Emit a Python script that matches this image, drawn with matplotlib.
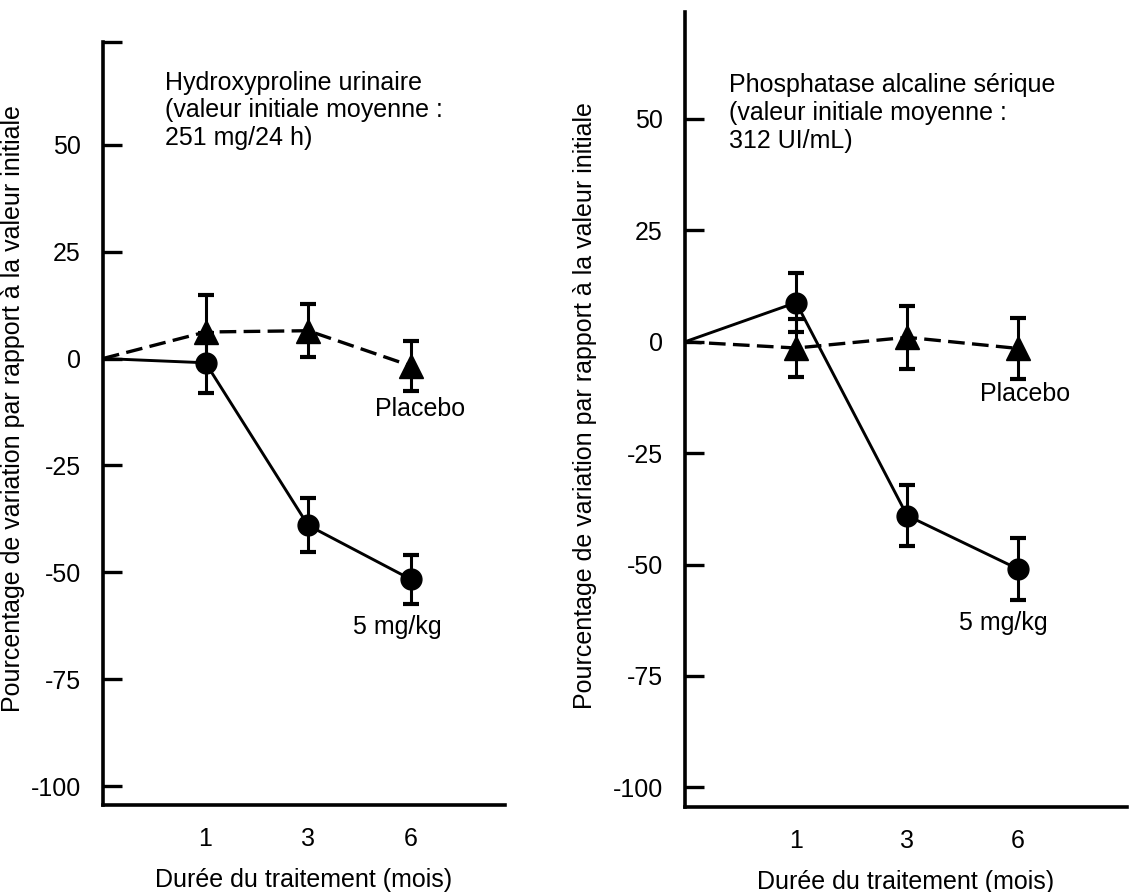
import matplotlib
matplotlib.use("Agg")
import matplotlib.pyplot as plt

plt.rcParams['font.family'] = ['Liberation Sans', 'DejaVu Sans']

# ---- data ----
months = ["0", "1", "3", "6"]
month_labels = ["1", "3", "6"]
y_ticks = [50, 25, 0, -25, -50, -75, -100]

# Panel 1: Hydroxyproline urinaire
hyp_dose = [0, -1, -39, -51.6]
hyp_dose_err = [0, 7, 6.3, 5.7]
hyp_plac = [0, 6.2, 6.5, -1.7]
hyp_plac_err = [0, 8.7, 6.2, 5.8]

# Panel 2: Phosphatase alcaline sérique
pal_dose = [0, 8.8, -39, -51]
pal_dose_err = [0, 6.7, 6.9, 6.9]
pal_plac = [0, -1.4, 1, -1.5]
pal_plac_err = [0, 6.6, 7, 6.8]

titles = ["Hydroxyproline urinaire\n(valeur initiale moyenne :\n251 mg/24 h)",
          "Phosphatase alcaline sérique\n(valeur initiale moyenne :\n312 UI/mL)"]
ylabel = "Pourcentage de variation par rapport à la valeur initiale"
xlabel = "Durée du traitement (mois)"
label_dose = "5 mg/kg"
label_plac = "Placebo"

FS = 18
YMIN, YMAX = -104.4, 74
fig = plt.figure(figsize=(11.33, 8.92), dpi=100)
ax1 = fig.add_axes([0.0909, 0.0975, 0.3548, 0.8554])
ax2 = fig.add_axes([0.6046, 0.0953, 0.3901, 0.8912])

panels = [
    (ax1, titles[0], hyp_dose, hyp_dose_err, hyp_plac, hyp_plac_err, 3.92,
     (0.6, 58.0), (2.65, -11.8), (2.44, -62.8), True),
    (ax2, titles[1], pal_dose, pal_dose_err, pal_plac, pal_plac_err, 3.98,
     (0.4, 51.3), (2.66, -11.7), (2.47, -63), False),
]

for ax, title, d, de, p, pe, xmax, tpos, ppos, dpos, topcap in panels:
    x = list(range(len(months)))
    # placebo dashed
    ax.plot(x, p, color='black', lw=2.4, ls=(0, (5, 2.2)), zorder=2)
    ax.errorbar(x[1:], p[1:], yerr=pe[1:], fmt='^', color='black', ms=17,
                ecolor='black', elinewidth=2.2, capsize=6, capthick=3, zorder=3)
    # 5 mg/kg solid
    ax.plot(x, d, color='black', lw=2.1, zorder=2)
    ax.errorbar(x[1:], d[1:], yerr=de[1:], fmt='o', color='black', ms=15,
                ecolor='black', elinewidth=2.2, capsize=6, capthick=3, zorder=3)

    ax.set_xlim(0, xmax)
    ax.set_ylim(YMIN, YMAX)
    ax.spines['top'].set_visible(False)
    ax.spines['right'].set_visible(False)
    ax.spines['left'].set_linewidth(2.6)
    ax.spines['bottom'].set_linewidth(2.6)

    ticks = list(y_ticks)
    labels = [str(t) for t in y_ticks]
    if topcap:
        ticks.append(YMAX)
        labels.append("")
    ax.set_yticks(ticks)
    ax.set_yticklabels(labels)
    ax.tick_params(axis='y', direction='in', length=14, width=2.4, pad=16, labelsize=FS)
    ax.set_xticks(x[1:])
    ax.set_xticklabels(month_labels)
    ax.tick_params(axis='x', length=0, pad=16, labelsize=FS)

    ax.set_xlabel(xlabel, fontsize=FS, labelpad=12)
    ax.set_ylabel(ylabel, fontsize=FS)

    ax.text(tpos[0], tpos[1], title, fontsize=FS, va='center', ha='left', linespacing=1.2)
    ax.text(ppos[0], ppos[1], label_plac, fontsize=FS, va='center', ha='left')
    ax.text(dpos[0], dpos[1], label_dose, fontsize=FS, va='center', ha='left')

ax1.yaxis.set_label_coords(-0.195, 0.52)
ax2.yaxis.set_label_coords(-0.2, 0.505)

fig.savefig("out.png", dpi=100)
